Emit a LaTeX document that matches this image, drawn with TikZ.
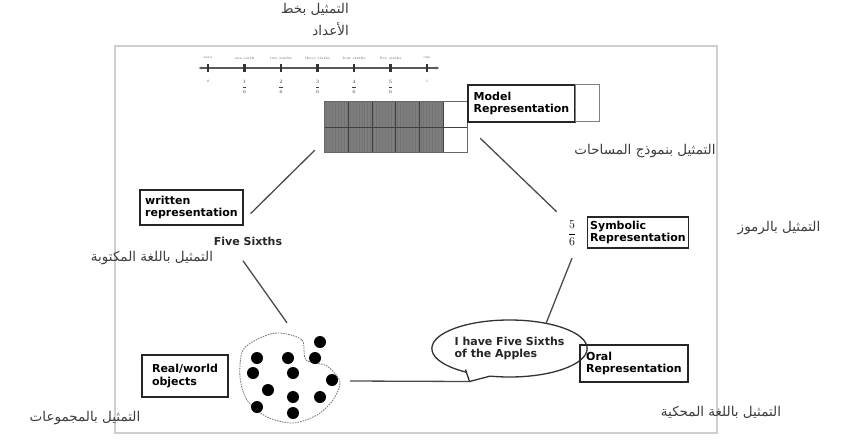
\documentclass[tikz,border=0pt]{standalone}
\usepackage{fontspec}
\usetikzlibrary{arrows.meta, shapes.geometric, calc, positioning}
\TeXXeTstate=1
\newfontfamily\arabicfont[Script=Arabic]{DejaVu Sans}
\newfontfamily\boxfont{DejaVu Sans}
\definecolor{frGrey}{HTML}{CFCFCF}
\definecolor{lnGrey}{HTML}{4A4A4A}
\definecolor{arGrey}{HTML}{3C3C3C}
\definecolor{cellGrey}{HTML}{7E7E7E}
\tikzset{
  repbox/.style   = {draw=black!85, line width=1.3pt, align=left, inner xsep=3pt,
                     inner ysep=2pt, font=\boxfont\bfseries\fontsize{11}{12.5}\selectfont},
  boldlbl/.style  = {font=\boxfont\bfseries\fontsize{11}{12.5}\selectfont, text=black!85},
  link/.style     = {lnGrey, line width=1.3pt},
  arlbl/.style    = {font=\arabicfont\fontsize{13.5}{22}\selectfont, text=arGrey},
  tinylbl/.style  = {font=\fontsize{3.6}{4}\selectfont, text=black!60, inner sep=0.5pt},
  fraclbl/.style  = {font=\fontsize{5}{5}\selectfont, text=black!75, inner sep=0.5pt},
  objdot/.style   = {fill=black},
  blobline/.style = {black!55, line width=0.8pt, dash pattern=on 1.6pt off 1pt},
}

\begin{document}
\begin{tikzpicture}[x=1pt, y=-1pt]
  \useasboundingbox (0,0) rectangle (848,442);
  % outer frame
  \draw[frGrey, line width=1.5pt] (115,46) rectangle (717,433);

  % number line at the top
  \draw[black!65, line width=1.2pt, {Latex[length=4pt]}-{Latex[length=4pt]}] (198,68) -- (440,68);
  \foreach \i/\w in {0/zero, 1/one sixth, 2/two sixths, 3/three sixths,
                     4/four sixths, 5/five sixths, 6/one} {
    \draw[black!80, line width=2.2pt] ({208+36.5*\i},64) -- ({208+36.5*\i},72);
    \node[tinylbl] at ({208+36.5*\i},58) {\w};
  }
  \node[tinylbl] at (208,81) {0};
  \node[tinylbl] at (427,81) {1};
  \foreach \i in {1,...,5}
    \node[fraclbl] at ({208+36.5*\i},87) {$\displaystyle\frac{\i}{6}$};

  % area model
  \node[minimum width=142pt, minimum height=50pt, inner sep=0pt] (grid) at (396,127) {};
  \fill[cellGrey] (grid.north west) rectangle ++(118.3,50);
  \foreach \k in {0,...,39}
    \draw[black!55, line width=0.35pt] ($(grid.north west)+(1.5+2.95*\k,0)$) -- ++(0,50);
  \foreach \c in {1,...,5}
    \draw[black!75, line width=0.9pt] ($(grid.north west)+(23.67*\c,0)$) -- ++(0,50);
  \draw[black!75, line width=0.9pt] (grid.west) -- (grid.east);
  \draw[black!60, line width=0.9pt] (grid.north west) rectangle (grid.south east);

  \node[repbox, minimum width=107pt, minimum height=37pt] (model) at (521.5,103.5)
    {Model\\Representation};
  \draw[black!50, line width=0.8pt] (model.north east) rectangle ++(24,37);

  % symbols
  \node[font=\fontsize{12}{12}\selectfont, inner sep=1pt] (frac) at (572,233)
    {$\displaystyle\frac{5}{6}$};
  \node[repbox, minimum width=100pt, minimum height=31pt] (symb) at (638,232.5)
    {Symbolic\\Representation};

  % written words
  \node[repbox, minimum width=103pt, minimum height=35pt] (written) at (191.5,207.5)
    {written\\representation};
  \node[boldlbl] (words) at (248,241) {Five Sixths};

  % spoken words
  \node[ellipse, draw=black!80, line width=1.3pt, fill=white, minimum width=135pt,
        minimum height=57pt, inner sep=0pt, align=left, boldlbl] (bubble) at (509.5,348.5)
    {I have Five Sixths\\of the Apples};
  \coordinate (tailtip) at ($(bubble.center)+(-40,33)$);
  \fill[white] ($(bubble.center)+(-44,20)$) -- (tailtip) -- ($(bubble.center)+(-18,27)$) -- cycle;
  \draw[black!80, line width=1.3pt] ($(bubble.center)+(-44,21)$) -- (tailtip)
    -- ($(bubble.center)+(-19,27.5)$);
  \node[repbox, minimum width=108pt, minimum height=37pt] (oral) at (634,363.5)
    {Oral\\Representation};

  % real objects
  \node[repbox, minimum width=86pt, minimum height=42pt] (real) at (185,376)
    {Real/world\\objects};
  \node[circle, minimum size=100pt, inner sep=0pt] (blob) at (290,378) {};
  \draw[blobline] plot[smooth cycle] coordinates {(280,333) (302,340) (306,360) (327,366)
    (340,382) (333,400) (317,415) (293,423) (267,417) (247,400) (240,377) (243,350) (262,337)};
  \foreach \p in {(320,342),(257,358),(288,358),(315,358),(253,373),(293,373),(332,380),
                  (268,390),(293,397),(320,397),(257,407),(293,413)}
    \fill[objdot] \p circle (6);

  % connectors
  \draw[link] ([xshift=7pt,yshift=-6pt]written.east) -- ([xshift=-10pt,yshift=2pt]grid.south west);
  \draw[link] ([xshift=13pt,yshift=14pt]grid.south east) -- ([xshift=-10pt,yshift=8pt]frac.north west);
  \draw[link] ([yshift=-12pt]frac.south) -- (bubble.35);
  \draw[link] ([xshift=10pt,yshift=-3pt]blob.east) -- (tailtip);
  \draw[link] ([xshift=-5pt,yshift=-12pt]words.south) -- ([xshift=-3pt,yshift=5pt]blob.north);

  % arabic captions
  \node[arlbl, align=right, anchor=north east, inner sep=1pt] (linecap) at (350,2)
    {\beginR التمثيل بخط\endR\\\beginR الأعداد\endR};
  \node[arlbl] (areacap) at (645,151) {\beginR التمثيل بنموذج المساحات\endR};
  \node[arlbl] (symbcap) at (779,228) {\beginR التمثيل بالرموز\endR};
  \node[arlbl] (writcap) at (152,258) {\beginR التمثيل باللغة المكتوبة\endR};
  \node[arlbl] (oralcap) at (721,412) {\beginR التمثيل باللغة المحكية\endR};
  \node[arlbl] (setcap) at (85,418) {\beginR التمثيل بالمجموعات\endR};
\end{tikzpicture}
\end{document}
